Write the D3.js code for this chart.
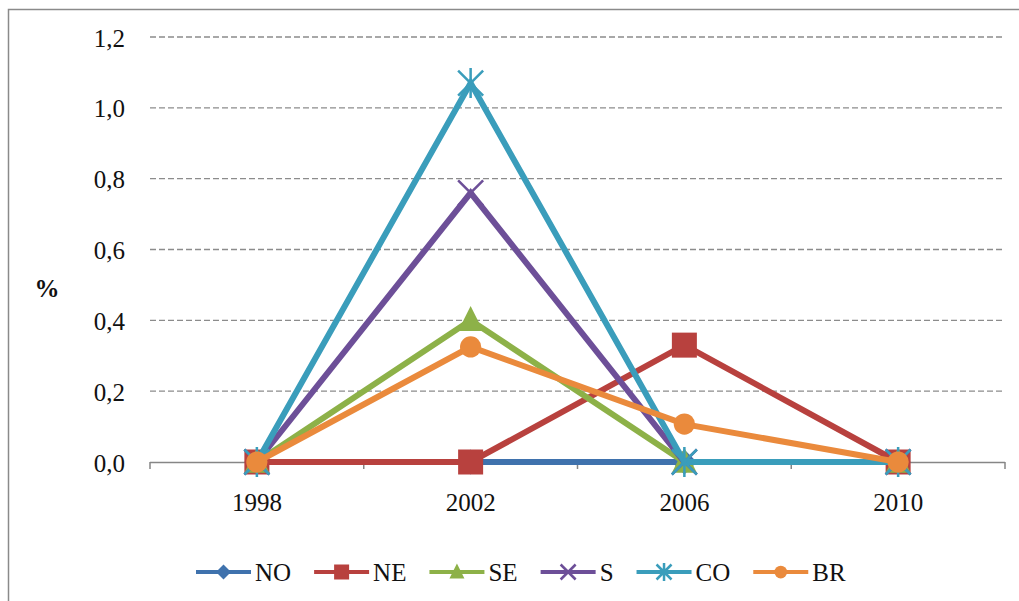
<!DOCTYPE html>
<html>
<head>
<meta charset="utf-8">
<script src="https://cdn.jsdelivr.net/npm/d3@7"></script>
<style>
  body { margin: 0; background: #fff; }
  svg { display: block; }
</style>
</head>
<body>
<svg id="chart" width="1019" height="601"></svg>
<script>
// ---- data ----
const years = ["1998", "2002", "2006", "2010"];
const seriesNames = ["NO", "NE", "SE", "S", "CO", "BR"];
const valuesNO = [0, 0, 0, 0];
const valuesNE = [0, 0, 0.33, 0];
const valuesSE = [0, 0.40, 0, 0];
const valuesS  = [0, 0.76, 0, 0];
const valuesCO = [0, 1.07, 0, 0];
const valuesBR = [0, 0.325, 0.107, 0];
const yTicks = [0, 0.2, 0.4, 0.6, 0.8, 1.0, 1.2];
const yLabel = "%";

const seriesColors = ["#3f72ad", "#b8413e", "#8db148", "#6d4f98", "#3a9dbb", "#ea8a3c"];
const seriesShapes = ["diamond", "square", "triangle", "x", "star", "circle"];
const seriesValues = [valuesNO, valuesNE, valuesSE, valuesS, valuesCO, valuesBR];
const series = seriesNames.map((n, i) => ({ name: n, values: seriesValues[i], color: seriesColors[i], shape: seriesShapes[i] }));

const svg = d3.select("#chart");
const FONT = "'Liberation Serif'";
const FS = 25;

// outer frame
svg.append("rect").attr("x", 8.5).attr("y", 9.5).attr("width", 1030).attr("height", 620)
  .attr("fill", "#fff").attr("stroke", "#8a8a8a").attr("stroke-width", 1.5);

const plotL = 150, plotR = 1005, plotT = 37, plotB = 462;
const x = d3.scaleBand().domain(years).range([plotL, plotR]);
const y = d3.scaleLinear().domain([0, 1.2]).range([plotB, plotT]);
const fmt = v => d3.format(".1f")(v).replace(".", ",");

// gridlines
svg.append("g").selectAll("line").data(yTicks.filter(t => t > 0)).join("line")
  .attr("x1", plotL).attr("x2", plotR)
  .attr("y1", d => y(d)).attr("y2", d => y(d))
  .attr("stroke", "#8c8c8c").attr("stroke-width", 1.3).attr("stroke-dasharray", "6,3");

// y axis labels (no line)
const yAxis = d3.axisLeft(y).tickValues(yTicks).tickFormat(fmt).tickSize(0).tickPadding(25);
const gy = svg.append("g").attr("transform", `translate(${plotL},0)`).call(yAxis);
gy.select(".domain").remove();
gy.selectAll("text").attr("font-size", FS).attr("fill", "#111").attr("dy", "0.36em").style("font-family", FONT);

// x axis
const xTickScale = d3.scaleLinear().domain([0, years.length]).range([plotL, plotR]);
const gx = svg.append("g");
gx.append("line").attr("x1", plotL).attr("x2", plotR).attr("y1", plotB + 0.5).attr("y2", plotB + 0.5)
  .attr("stroke", "#868686").attr("stroke-width", 1.5);
gx.selectAll("line.tk").data(d3.range(years.length + 1)).join("line").attr("class", "tk")
  .attr("x1", d => xTickScale(d)).attr("x2", d => xTickScale(d))
  .attr("y1", plotB).attr("y2", plotB + 7)
  .attr("stroke", "#868686").attr("stroke-width", 1.5);
gx.selectAll("text").data(years).join("text")
  .attr("x", d => x(d) + x.bandwidth() / 2).attr("y", 511)
  .attr("text-anchor", "middle").attr("font-size", FS).attr("fill", "#111")
  .style("font-family", FONT).text(d => d);

// y title
svg.append("text").attr("x", 47).attr("y", 297).attr("text-anchor", "middle")
  .attr("font-size", FS).attr("font-weight", "bold").attr("fill", "#111")
  .style("font-family", FONT).text(yLabel);

// marker drawer
function drawMarker(g, shape, color, s) {
  if (shape === "diamond") {
    g.append("path").attr("d", `M0,${-s}L${s},0L0,${s}L${-s},0Z`).attr("fill", color);
  } else if (shape === "square") {
    g.append("rect").attr("x", -s).attr("y", -s).attr("width", 2 * s).attr("height", 2 * s).attr("fill", color);
  } else if (shape === "triangle") {
    g.append("path").attr("d", `M0,${-s * 1.15}L${s},${s * 0.85}L${-s},${s * 0.85}Z`).attr("fill", color);
  } else if (shape === "circle") {
    g.append("circle").attr("r", s * 0.85).attr("fill", color);
  } else if (shape === "x") {
    g.append("path").attr("d", `M${-s},${-s}L${s},${s}M${s},${-s}L${-s},${s}`)
      .attr("stroke", color).attr("stroke-width", 2.5).attr("fill", "none");
  } else if (shape === "star") {
    g.append("path").attr("d", `M${-s},${-s}L${s},${s}M${s},${-s}L${-s},${s}M0,${-s * 1.2}L0,${s * 1.2}`)
      .attr("stroke", color).attr("stroke-width", 2.5).attr("fill", "none");
  }
}

// lines
const line = d3.line().x((d, i) => x(years[i]) + x.bandwidth() / 2).y(d => y(d));
series.forEach(s => {
  const g = svg.append("g");
  g.append("path").datum(s.values).attr("d", line)
    .attr("fill", "none").attr("stroke", s.color).attr("stroke-width", 6).attr("stroke-linejoin", "miter");
  s.values.forEach((v, i) => {
    const m = g.append("g").attr("transform", `translate(${x(years[i]) + x.bandwidth() / 2},${y(v)})`);
    drawMarker(m, s.shape, s.color, 12.5);
  });
});

// legend
const legend = svg.append("g");
let lx = 196;
const ly = 572;
const lineLen = 55;
series.forEach(s => {
  const g = legend.append("g");
  g.append("line").attr("x1", lx).attr("x2", lx + lineLen).attr("y1", ly).attr("y2", ly)
    .attr("stroke", s.color).attr("stroke-width", 4);
  const m = g.append("g").attr("transform", `translate(${lx + lineLen / 2},${ly})`);
  drawMarker(m, s.shape, s.color, 7.5);
  const t = g.append("text").attr("x", lx + lineLen + 4).attr("y", ly + 9)
    .attr("font-size", FS).attr("fill", "#111").style("font-family", FONT).text(s.name);
  lx = lx + lineLen + 4 + t.node().getComputedTextLength() + 23;
});
</script>
</body>
</html>
